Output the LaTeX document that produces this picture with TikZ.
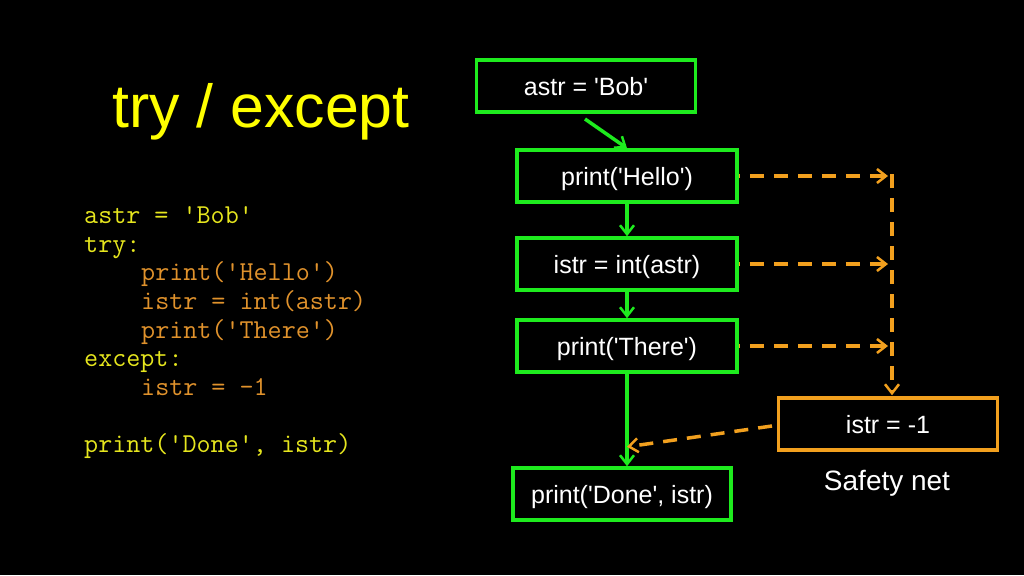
\documentclass[tikz,border=0pt]{standalone}
\usepackage{fontspec}
\setmainfont{Liberation Sans}[Ligatures=TeXOff]
\setmonofont{Latin Modern Mono}
\usetikzlibrary{arrows.meta,calc}
\definecolor{ttlyellow}{HTML}{FFFF00}
\definecolor{codeyellow}{HTML}{E6E61E}
\definecolor{codeorange}{HTML}{E0922C}
\definecolor{boxgreen}{HTML}{1EEB1E}
\definecolor{boxorange}{HTML}{F2A01E}
\tikzset{
  gbox/.style={draw=boxgreen, line width=3.5pt, text=white, inner sep=0pt,
    text height=21pt, text depth=2pt,
    minimum width=#1, minimum height=52pt, font=\fontsize{25}{28}\selectfont},
  obox/.style={draw=boxorange, line width=3.5pt, text=white, inner sep=0pt,
    text height=21pt, text depth=2pt,
    minimum width=#1, minimum height=52pt, font=\fontsize{25}{28}\selectfont},
  codey/.style={anchor=base west, inner sep=0pt, text=codeyellow, font=\ttfamily\fontsize{27.3}{28}\selectfont},
  codeo/.style={anchor=base west, inner sep=0pt, text=codeorange, font=\ttfamily\fontsize{27.3}{28}\selectfont},
  tipb/.style={-{Straight Barb[length=9pt,width=14pt,line width=2.5pt]}},
  garrow/.style={draw=boxgreen, line width=3.5pt, tipb},
  oarrow/.style={draw=boxorange, line width=3.5pt, dash pattern=on 14pt off 10pt, tipb},
}
\begin{document}
\begin{tikzpicture}[x=1pt,y=-1pt]
\fill[black] (0,0) rectangle (1024,575);
\useasboundingbox (0,0) rectangle (1024,575);

\node[anchor=base west, inner sep=0pt, text=ttlyellow, font=\fontsize{60.8}{66}\selectfont] (title) at (112,127) {try / except};

\node[codey] (c1) at (84,223) {astr = 'Bob'};
\node[codey] (c2) at (84,252) {try:};
\node[codeo] (c3) at (141,280) {print('Hello')};
\node[codeo] (c4) at (141,309) {istr = int(astr)};
\node[codeo] (c5) at (141,338) {print('There')};
\node[codey] (c6) at (84,366) {except:};
\node[codeo] (c7) at (141,395) {istr = -1};
\node[codey] (c8) at (84,452) {print('Done', istr)};

\node[gbox=219pt] (bob) at (586,86) {astr = 'Bob'};
\node[gbox=220pt] (hello) at (627,176) {print('Hello')};
\node[gbox=220pt] (istr) at (627,264) {istr = int(astr)};
\node[gbox=220pt] (there) at (627,346) {print('There')};
\node[gbox=218pt] (done) at (622,494) {print('Done', istr)};
\node[obox=219pt] (neg) at (888,424) {istr = -1};
\node[text=white, inner sep=0pt, font=\fontsize{28}{32}\selectfont] (net) at (887,483) {Safety net};

\coordinate (bobout) at (585,119);
\draw[garrow] (bobout) -- (hello.north);
\draw[garrow] (hello.south) -- (istr.north);
\draw[garrow] (istr.south) -- (there.north);
\draw[garrow] (there.south) -- (there.south |- done.north);

\coordinate (rail) at (892,174);
\draw[oarrow, dash phase=13pt, shorten >=4pt] (hello.east) -- (hello.east -| rail);
\draw[oarrow, dash phase=13pt, shorten >=4pt] (istr.east) -- (istr.east -| rail);
\draw[oarrow, dash phase=13pt, shorten >=4pt] (there.east) -- (there.east -| rail);
\draw[oarrow, shorten >=1pt] (rail) -- (rail |- neg.north);

\coordinate (join) at ($(there.south)!0.79!(there.south |- done.north)$);
\coordinate (negout) at (772,426);
\draw[oarrow] (negout) -- (join);
\end{tikzpicture}
\end{document}
